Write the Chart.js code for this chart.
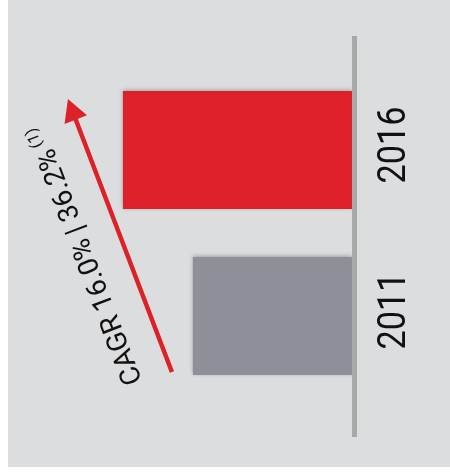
<!DOCTYPE html>
<html>
<head>
<meta charset="utf-8">
<script src="https://cdn.jsdelivr.net/npm/chart.js@4"></script>
<style>
  html, body { margin: 0; padding: 0; background: #ffffff; }
  #wrap { position: absolute; left: 8px; top: 0; width: 442px; height: 467px; background: #dcdddf; }
</style>
</head>
<body>
<div id="wrap"><canvas id="cagrchart"></canvas></div>
<script>
// data
const years = ['2016', '2011'];
const values = [70.7, 49.1];
const barColors = ['#dc2228', '#8d9098'];
const cagrText = 'CAGR 16.0% | 36.2%';
const cagrNote = '(1)';

const decor = {
    id: 'decor',
    beforeDatasetsDraw(chart) {
        const ctx = chart.ctx;
        ctx.save();
        ctx.shadowColor = 'rgba(0, 0, 0, 0.28)';
        ctx.shadowBlur = 4;
        ctx.shadowOffsetY = -1;
    },
    afterDatasetsDraw(chart) {
        const ctx = chart.ctx;
        ctx.restore();
        const area = chart.chartArea;
        const yScale = chart.scales.y;

        // axis line
        ctx.save();
        ctx.fillStyle = '#a8a8a8';
        ctx.fillRect(area.right, area.top - 31, 5, area.bottom - area.top + 69);
        ctx.restore();

        // year labels, rotated
        ctx.save();
        ctx.fillStyle = '#111111';
        ctx.font = '38px Roboto';
        ctx.textAlign = 'center';
        ctx.textBaseline = 'middle';
        years.forEach(function(y, i) {
            ctx.save();
            ctx.translate(area.right + 43, yScale.getPixelForValue(i) - 5);
            ctx.rotate(-Math.PI / 2);
            ctx.scale(0.9, 1);
            ctx.fillText(y, 0, 0);
            ctx.restore();
        });
        ctx.restore();

        // CAGR arrow from the 2011 bar to the 2016 bar
        const meta = chart.getDatasetMeta(0);
        const top = meta.data[0], low = meta.data[1];
        const start = { x: low.x - 21, y: low.y + low.height / 2 - 3 };
        const tip = { x: top.x - 55, y: top.y - top.height / 2 + 8 };
        const ang = Math.atan2(tip.y - start.y, tip.x - start.x);
        const len = Math.hypot(tip.x - start.x, tip.y - start.y);

        ctx.save();
        ctx.translate(start.x, start.y);
        ctx.rotate(ang);
        ctx.strokeStyle = '#dc2228';
        ctx.fillStyle = '#dc2228';
        ctx.lineWidth = 4.5;
        ctx.beginPath();
        ctx.moveTo(0, 0);
        ctx.lineTo(len - 20, 0);
        ctx.stroke();
        ctx.beginPath();
        ctx.moveTo(len, 0);
        ctx.lineTo(len - 22, -12);
        ctx.lineTo(len - 22, 12);
        ctx.closePath();
        ctx.fill();

        // label along the arrow
        ctx.fillStyle = '#111111';
        ctx.font = '28px Roboto';
        ctx.textAlign = 'left';
        ctx.textBaseline = 'alphabetic';
        ctx.fillText(cagrText, 2, -31);
        const w = ctx.measureText(cagrText).width;
        ctx.font = '16px Roboto';
        ctx.fillText(cagrNote, 2 + w + 5, -41);
        ctx.restore();
    }
};

new Chart(document.getElementById('cagrchart'), {
    type: 'bar',
    data: {
        labels: years,
        datasets: [{
            data: values,
            backgroundColor: barColors,
            borderWidth: 0,
            categoryPercentage: 1,
            barPercentage: 0.71
        }]
    },
    options: {
        indexAxis: 'y',
        responsive: true,
        maintainAspectRatio: false,
        animation: false,
        layout: { padding: { left: 20, right: 98, top: 67, bottom: 68 } },
        plugins: { legend: { display: false }, tooltip: { enabled: false } },
        scales: {
            x: { reverse: true, min: 0, max: 100, display: false },
            y: { display: false }
        }
    },
    plugins: [decor]
});
</script>
</body>
</html>
